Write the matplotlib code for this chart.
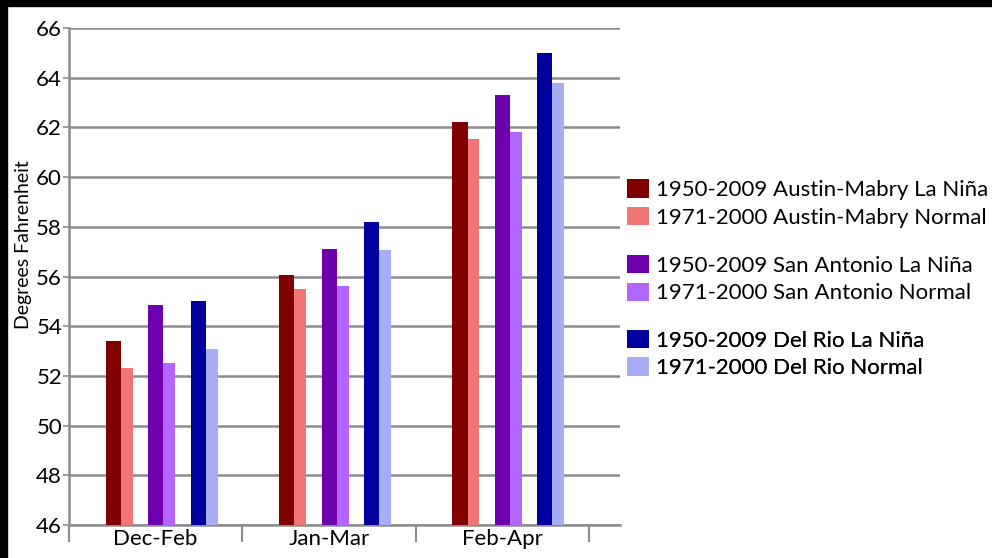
import numpy as np
import matplotlib.pyplot as plt
from matplotlib.patches import Patch, Rectangle

# seasons and mean temps (deg F)
seasons = ['Dec-Feb', 'Jan-Mar', 'Feb-Apr']
austin_nina = [53.4, 56.05, 62.2]
austin_norm = [52.3, 55.5, 61.55]
sa_nina = [54.85, 57.1, 63.3]
sa_norm = [52.5, 55.6, 61.8]
delrio_nina = [55.0, 58.2, 65.0]
delrio_norm = [53.1, 57.05, 63.8]

labels = ['1950-2009 Austin-Mabry La Niña', '1971-2000 Austin-Mabry Normal',
          '1950-2009 San Antonio La Niña', '1971-2000 San Antonio Normal',
          '1950-2009 Del Rio La Niña', '1971-2000 Del Rio Normal']
colors = ['#800000', '#F07575', '#6E00AE', '#B266FF', '#00009F', '#A6ADF5']

plt.rcParams['font.family'] = ['Lato', 'DejaVu Sans']

fig = plt.figure(figsize=(9.92, 5.58), dpi=100)
ax = fig.add_axes([0.0696, 0.0591, 0.5554, 0.8907])

x = np.arange(len(seasons))
series = [austin_nina, austin_norm, sa_nina, sa_norm, delrio_nina, delrio_norm]
wd, wl = 0.087, 0.069   # dark bar / light bar widths
splits = [-0.2, 0.045, 0.29]   # where each dark/light pair meets
for k in range(3):
    ax.bar(x + splits[k] - wd / 2, np.array(series[2 * k]) - 46, wd, bottom=46,
           color=colors[2 * k], zorder=3)
    ax.bar(x + splits[k] + wl / 2, np.array(series[2 * k + 1]) - 46, wl, bottom=46,
           color=colors[2 * k + 1], zorder=3)

ax.set_ylim(46, 66)
ax.set_xlim(-0.5, 2.68)
ax.set_yticks(np.arange(46, 67, 2))
ax.yaxis.grid(True, color='#8c8c8c', linewidth=1.8, zorder=0)
ax.set_axisbelow(True)

ax.set_xticks(x)
ax.set_xticklabels(seasons, fontsize=16)
ax.set_xticks(np.arange(-0.5, 3, 1), minor=True)
ax.tick_params(axis='x', which='major', length=0, pad=3)
ax.tick_params(axis='x', which='minor', length=12, width=1.5, color='#8c8c8c')
ax.tick_params(axis='y', length=4, width=1.2, color='#8c8c8c', labelsize=16, pad=1)

for s in ['top', 'right']:
    ax.spines[s].set_visible(False)
for s in ['left', 'bottom']:
    ax.spines[s].set_color('#8c8c8c')
    ax.spines[s].set_linewidth(1.8)

ax.set_ylabel('Degrees Fahrenheit', fontsize=14, labelpad=2)
ax.yaxis.set_label_coords(-0.068, 0.565)

# legend in three separated pairs
tops = [0.679, 0.543, 0.409]
for k in range(3):
    hs = [Patch(facecolor=colors[2 * k + j]) for j in range(2)]
    leg = ax.legend(hs, labels[2 * k:2 * k + 2], loc='upper left',
                    bbox_to_anchor=(0.632, tops[k]), bbox_transform=fig.transFigure,
                    frameon=False, fontsize=16, handlelength=1.0, handleheight=0.9,
                    handletextpad=0.3, labelspacing=0.3, borderaxespad=0, borderpad=0)
    ax.add_artist(leg)

# black frame on top and left edges
fig.add_artist(Rectangle((0, 0.99), 1, 0.01, transform=fig.transFigure, color='black'))
fig.add_artist(Rectangle((0, 0), 0.007, 1, transform=fig.transFigure, color='black'))

fig.savefig('out.png', dpi=100)
